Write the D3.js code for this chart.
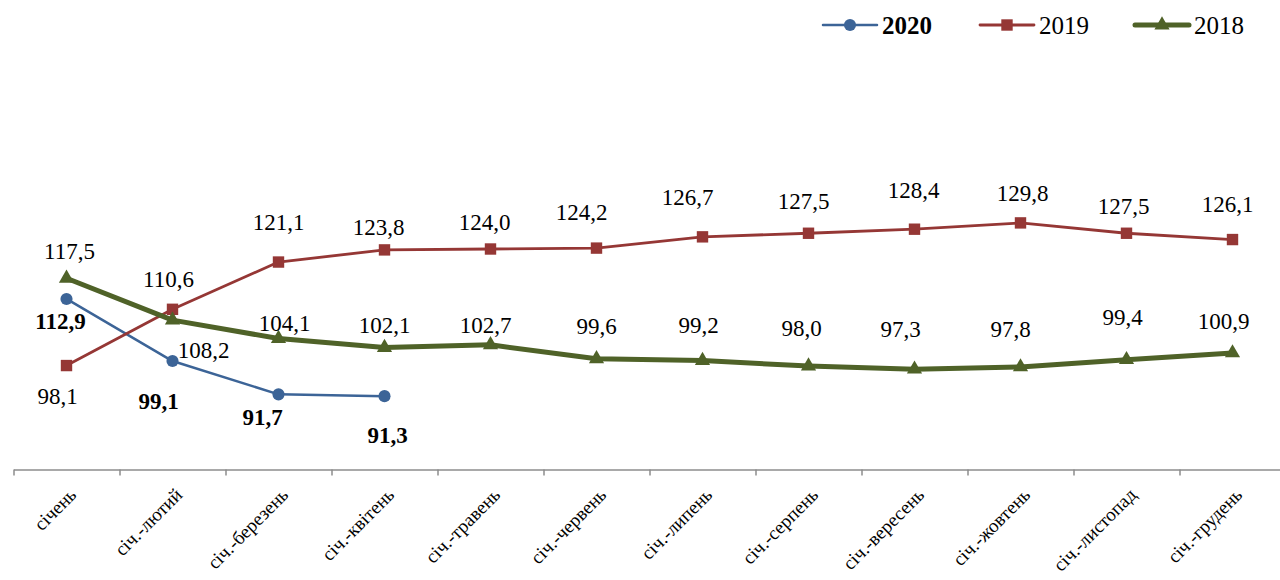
<!DOCTYPE html>
<html>
<head>
<meta charset="utf-8">
<script src="https://cdn.jsdelivr.net/npm/d3@7"></script>
<style>
  body { margin: 0; background: #fff; }
  svg { display: block; }
  text { fill: #000; }
</style>
</head>
<body>
<div id="chart"></div>
<script>
// data
const categories = ["січень", "січ.-лютий", "січ.-березень", "січ.-квітень", "січ.-травень", "січ.-червень",
    "січ.-липень", "січ.-серпень", "січ.-вересень", "січ.-жовтень", "січ.-листопад", "січ.-грудень"];
const seriesNames = ["2020", "2019", "2018"];
const values2020 = [112.9, 99.1, 91.7, 91.3];
const values2019 = [98.1, 110.6, 121.1, 123.8, 124.0, 124.2, 126.7, 127.5, 128.4, 129.8, 127.5, 126.1];
const values2018 = [117.5, 108.2, 104.1, 102.1, 102.7, 99.6, 99.2, 98.0, 97.3, 97.8, 99.4, 100.9];

// label nudges (dx, dy from the point), as placed by hand in the original
const nudge2020 = [[-6, 22], [-14, 40], [-16, 23], [3, 39]];
const nudge2019 = [[-9, 30], [-4, -30], [0, -40], [-6, -23], [-6, -27], [-15, -36], [-15, -40], [-5, -32], [-1, -39], [2, -30], [-3, -27], [-5, -36]];
const nudge2018 = [[3, -27], [31, 30], [6, -16], [0, -23], [-5, -20], [0, -33], [-4, -36], [-7, -38], [-14, -40], [-10, -38], [-4, -43], [-9, -32]];

const width = 1280, height = 580;
const FONT = '"Liberation Serif", "Times New Roman", "DejaVu Serif", serif';
const fmt = v => v.toFixed(1).replace(".", ",");

const svg = d3.select("#chart").append("svg")
    .attr("width", width)
    .attr("height", height)
    .attr("font-family", FONT);

// scales
const xBand = d3.scaleBand().domain(categories).range([13.5, 1285.5]).padding(0);
const xEdge = d3.scaleLinear().domain([0, categories.length]).range([13.5, 1285.5]);
const yScale = d3.scaleLinear().domain([75, 140]).range([469.5, 177]);
const cx = (d, i) => xBand(categories[i]) + xBand.bandwidth() / 2;

// x axis
const xAxis = d3.axisBottom(xEdge)
    .tickValues(d3.range(categories.length + 1))
    .tickSize(6)
    .tickSizeOuter(0)
    .tickFormat("");

const axisG = svg.append("g")
    .attr("transform", `translate(0, ${yScale(75)})`)
    .call(xAxis);
axisG.select(".domain").attr("stroke", "#8c8c8c").attr("stroke-width", 1.5);
axisG.selectAll(".tick line").attr("stroke", "#8c8c8c").attr("stroke-width", 1.5);

svg.append("g")
    .selectAll("text")
    .data(categories)
    .enter()
    .append("text")
    .attr("text-anchor", "end")
    .attr("font-family", FONT)
    .attr("font-size", 19)
    .attr("transform", d => `translate(${xBand(d) + xBand.bandwidth() / 2 + 11}, 496) rotate(-45)`)
    .text(d => d);

const series = [
    { name: "2020", values: values2020, nudge: nudge2020, color: "#3c6497", lw: 2.5, marker: "circle", bold: true },
    { name: "2019", values: values2019, nudge: nudge2019, color: "#953735", lw: 2.8, marker: "square", bold: false },
    { name: "2018", values: values2018, nudge: nudge2018, color: "#4f6228", lw: 5, marker: "triangle", bold: false }
];

const symbols = {
    circle: d3.symbol().type(d3.symbolCircle).size(115),
    square: d3.symbol().type(d3.symbolSquare).size(130),
    triangle: d3.symbol().type(d3.symbolTriangle).size(100)
};

const line = d3.line()
    .x(cx)
    .y(d => yScale(d));

series.forEach(s => {
    const g = svg.append("g");

    g.append("path")
        .datum(s.values)
        .attr("fill", "none")
        .attr("stroke", s.color)
        .attr("stroke-width", s.lw)
        .attr("stroke-linejoin", "round")
        .attr("stroke-linecap", "round")
        .attr("d", line);

    g.selectAll(".pt")
        .data(s.values)
        .enter()
        .append("path")
        .attr("class", "pt")
        .attr("fill", s.color)
        .attr("transform", (d, i) => `translate(${cx(d, i)}, ${yScale(d)})`)
        .attr("d", symbols[s.marker]);
});

// data labels on top
series.forEach(s => {
    svg.append("g")
        .selectAll("text")
        .data(s.values)
        .enter()
        .append("text")
        .attr("text-anchor", "middle")
        .attr("font-family", FONT)
        .attr("font-size", 23)
        .attr("font-weight", s.bold ? "bold" : "normal")
        .attr("x", (d, i) => cx(d, i) + s.nudge[i][0])
        .attr("y", (d, i) => yScale(d) + s.nudge[i][1])
        .attr("dy", "0.35em")
        .text(fmt);
});

// legend
const legendX = [823, 980, 1135];
const legend = svg.append("g").attr("transform", "translate(0, 25)");
series.forEach((s, i) => {
    const x0 = legendX[i];
    legend.append("line")
        .attr("x1", x0).attr("x2", x0 + 54)
        .attr("y1", 0).attr("y2", 0)
        .attr("stroke", s.color)
        .attr("stroke-width", s.lw)
        .attr("stroke-linecap", "round");
    legend.append("path")
        .attr("fill", s.color)
        .attr("transform", `translate(${x0 + 27}, 0)`)
        .attr("d", symbols[s.marker]);
    legend.append("text")
        .attr("x", x0 + 59)
        .attr("y", 0)
        .attr("dy", "0.35em")
        .attr("font-family", FONT)
        .attr("font-size", 25)
        .attr("font-weight", s.bold ? "bold" : "normal")
        .text(seriesNames[i]);
});
</script>
</body>
</html>
